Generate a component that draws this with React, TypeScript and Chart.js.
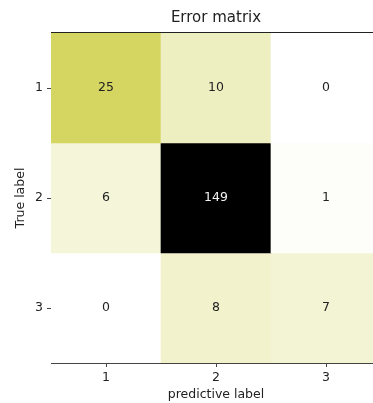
import React, { useEffect, useRef } from 'react';
import { Chart, registerables } from 'chart.js';

Chart.register(...registerables);

// ---- data ----
const predictedLabels = ['1', '2', '3'];
const trueLabels = [1, 2, 3];
const row1 = [25, 10, 0];
const row2 = [6, 149, 1];
const row3 = [0, 8, 7];
const matrix = [row1, row2, row3];
const titleText = 'Error matrix';
const xTitle = 'predictive label';
const yTitle = 'True label';

const FONT = "'DejaVu Sans', sans-serif";
const maxValue = Math.max(...matrix.flat());

// colormap: white -> yellow-green -> black
const stops: [number, number[]][] = [
  [0, [255, 255, 255]],
  [0.168, [213, 214, 98]],
  [1, [0, 0, 0]],
];
function cellColor(v: number): string {
  const t = v / maxValue;
  for (let i = 0; i < stops.length - 1; i++) {
    const [t0, c0] = stops[i];
    const [t1, c1] = stops[i + 1];
    if (t >= t0 && t <= t1) {
      const f = (t - t0) / (t1 - t0);
      const c = c0.map((a, k) => Math.round(a + (c1[k] - a) * f));
      return `rgb(${c[0]},${c[1]},${c[2]})`;
    }
  }
  return 'rgb(0,0,0)';
}

const cellLabels = {
  id: 'cellLabels',
  afterDatasetsDraw(chart: any) {
    const ctx = chart.ctx;
    ctx.save();
    ctx.font = `12.5px ${FONT}`;
    ctx.textAlign = 'center';
    ctx.textBaseline = 'middle';
    chart.data.datasets.forEach((_ds: any, di: number) => {
      const meta = chart.getDatasetMeta(di);
      meta.data.forEach((el: any, i: number) => {
        const v = matrix[di][i];
        ctx.fillStyle = v > maxValue / 2 ? '#f2f2f2' : '#222222';
        ctx.fillText(String(v), el.x, (el.y + el.base) / 2);
      });
    });
    ctx.restore();
  },
};

const frame = {
  id: 'frame',
  afterDraw(chart: any) {
    const { ctx, chartArea } = chart;
    ctx.save();
    ctx.strokeStyle = '#222222';
    ctx.lineWidth = 1;
    ctx.beginPath();
    ctx.moveTo(chartArea.left, chartArea.top - 0.5);
    ctx.lineTo(chartArea.right, chartArea.top - 0.5);
    ctx.moveTo(chartArea.right + 0.5, chartArea.top);
    ctx.lineTo(chartArea.right + 0.5, chartArea.bottom);
    ctx.stroke();
    ctx.restore();
  },
};

export default function App() {
  const ref = useRef<HTMLCanvasElement>(null);

  useEffect(() => {
    if (!ref.current) return;
    const datasets = trueLabels.map((r, ri) => ({
      label: String(r),
      data: predictedLabels.map(() => [r - 0.5, r + 0.5]),
      backgroundColor: matrix[ri].map((v) => cellColor(v)),
      borderWidth: 0,
      barPercentage: 1,
      categoryPercentage: 1,
      grouped: false,
    }));

    const chart = new Chart(ref.current, {
      type: 'bar',
      data: { labels: predictedLabels, datasets: datasets as any },
      plugins: [cellLabels, frame],
      options: {
        responsive: false,
        animation: false,
        devicePixelRatio: 1,
        layout: { padding: 0 },
        plugins: {
          legend: { display: false },
          tooltip: { enabled: false },
          title: {
            display: true,
            text: titleText,
            fullSize: false,
            color: '#222222',
            font: { family: FONT, size: 15, weight: 'normal', lineHeight: 1.2 },
            padding: { top: 9, bottom: 6 },
          },
        },
        scales: {
          x: {
            type: 'category',
            offset: true,
            grid: {
              display: true,
              drawOnChartArea: false,
              drawTicks: true,
              tickLength: 4,
              offset: false,
              color: '#444444',
            },
            border: { display: true, color: '#444444' },
            ticks: {
              color: '#222222',
              padding: 3,
              font: { family: FONT, size: 12.5 },
              maxRotation: 0,
            },
            title: {
              display: true,
              text: xTitle,
              color: '#222222',
              font: { family: FONT, size: 12.5, lineHeight: 1.2 },
              padding: { top: 0, bottom: 0.5 },
            },
            afterFit: (s: any) => {
              s.height = 40;
            },
          },
          y: {
            type: 'linear',
            min: 0.5,
            max: 3.5,
            reverse: true,
            grid: {
              display: true,
              drawOnChartArea: false,
              drawTicks: true,
              tickLength: 4,
              color: '#444444',
            },
            border: { display: true, color: '#444444' },
            afterBuildTicks: (s: any) => {
              s.ticks = trueLabels.map((v) => ({ value: v }));
            },
            ticks: {
              color: '#222222',
              padding: 4,
              font: { family: FONT, size: 12.5 },
              callback: (v: any) => String(v),
            },
            title: {
              display: true,
              text: yTitle,
              color: '#222222',
              font: { family: FONT, size: 12.5, lineHeight: 1.2 },
              padding: { top: 13.5, bottom: 0 },
            },
            afterFit: (s: any) => {
              s.width = 51;
            },
          },
        },
      } as any,
    });
    return () => chart.destroy();
  }, []);

  return (
    <div
      style={{
        position: 'absolute',
        left: 0,
        top: 0,
        width: 373,
        height: 403,
        overflow: 'hidden',
        background: '#ffffff',
      }}
    >
      <canvas ref={ref} width={381} height={403} style={{ display: 'block', width: 381, height: 403 }} />
    </div>
  );
}
